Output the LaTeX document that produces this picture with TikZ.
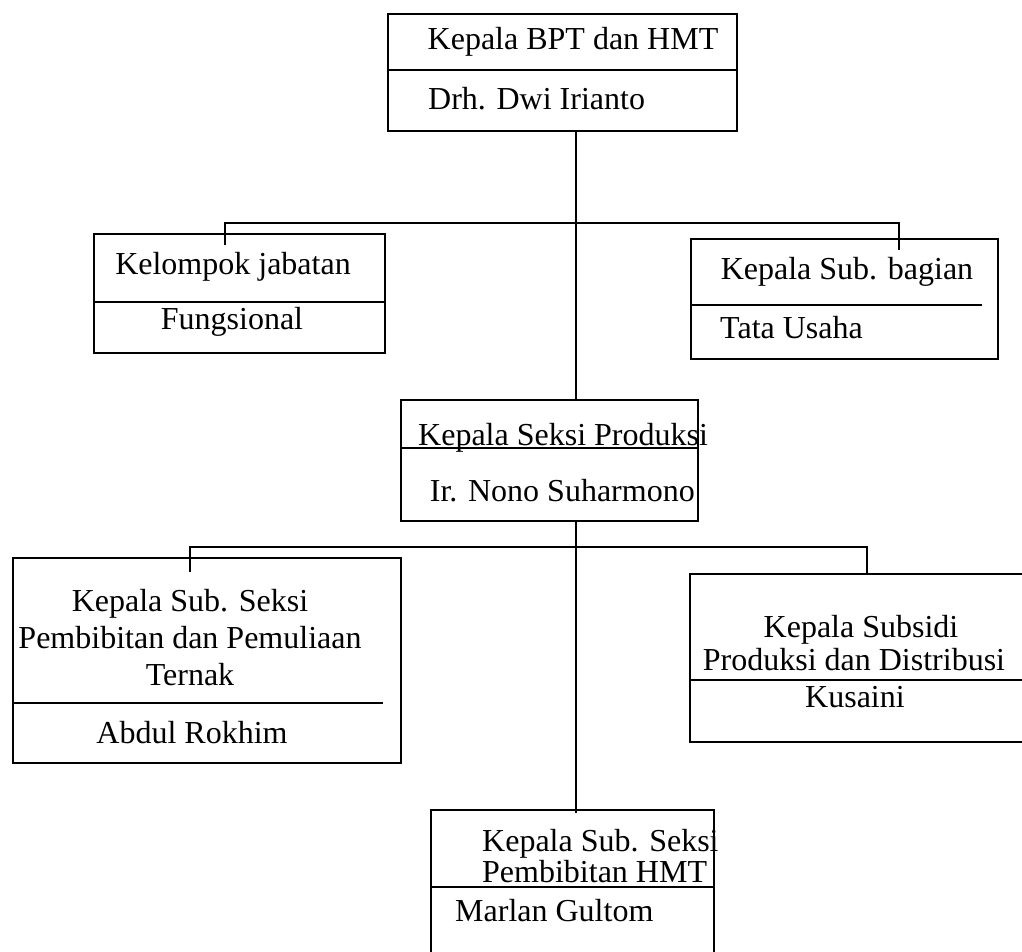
\documentclass[tikz,border=0pt]{standalone}
\usepackage{fontspec}
\setmainfont{Liberation Serif}
\usetikzlibrary{positioning,calc}
\tikzset{
  frame/.style={draw, line width=1.5pt, inner sep=0pt, anchor=north west},
  lbl/.style={inner sep=0pt, font=\fontsize{32}{37}\selectfont},
  wire/.style={line width=1.5pt},
}

\begin{document}
\begin{tikzpicture}[x=1pt,y=-1pt]
    \useasboundingbox (0,0) rectangle (1022,951);

    % draw the boxes
    \node[frame, minimum width=349pt, minimum height=117pt] (bpt) at (387,13) {};
    \node[frame, minimum width=291pt, minimum height=119pt] (kel) at (93,233) {};
    \node[frame, minimum width=307pt, minimum height=120pt] (tu) at (690,238) {};
    \node[frame, minimum width=297pt, minimum height=121pt] (prod) at (400,399) {};
    \node[frame, minimum width=388pt, minimum height=205pt] (pem) at (12,557) {};
    \node[frame, minimum width=345pt, minimum height=168pt] (dis) at (689,573) {};
    \node[frame, minimum width=283pt, minimum height=160pt] (hmt) at (430,809) {};

    % draw the dividers
    \draw[wire] (bpt.west |- 0,70) -- (bpt.east |- 0,70);
    \draw[wire] (kel.west |- 0,302) -- (kel.east |- 0,302);
    \draw[wire] (tu.west |- 0,305) -- (982,305);
    \draw[wire] (prod.west |- 0,448) -- (prod.east |- 0,448);
    \draw[wire] (pem.west |- 0,703) -- (383,703);
    \draw[wire] (dis.west |- 0,680) -- (dis.east |- 0,680);
    \draw[wire] (hmt.west |- 0,887) -- (hmt.east |- 0,887);

    % label the boxes
    \node[lbl] (bpttop) at (573,42) {Kepala BPT dan HMT};
    \node[lbl, anchor=west] (bptname) at (428,99) {Drh. Dwi Irianto};
    \node[lbl] (keltop) at (233,267) {Kelompok jabatan};
    \node[lbl] (kelname) at (232,322) {Fungsional};
    \node[lbl] (tutop) at (847,272) {Kepala Sub. bagian};
    \node[lbl, anchor=west] (tuname) at (720,328) {Tata Usaha};
    \node[lbl, anchor=base west] (prodtop) at (418,445) {Kepala Seksi Produksi};
    \node[lbl, anchor=east] (prodname) at (695,491) {Ir. Nono Suharmono};
    \node[lbl, align=center] (pemtop) at (190,638) {Kepala Sub. Seksi\\Pembibitan dan Pemuliaan\\Ternak};
    \node[lbl] (pemname) at (192,733) {Abdul Rokhim};
    \node[lbl, anchor=base] (distop) at (861,637) {Kepala Subsidi};
    \node[lbl, anchor=base] (disbot) at (854,670) {Produksi dan Distribusi};
    \node[lbl, anchor=base] (disname) at (855,707) {Kusaini};
    \node[lbl, anchor=base west] (hmttop) at (482,851) {Kepala Sub. Seksi};
    \node[lbl, anchor=base west] (hmtmid) at (482,882) {Pembibitan HMT};
    \node[lbl, anchor=base west] (hmtname) at (455,921) {Marlan Gultom};

    % draw the connectors
    \coordinate (trunk) at (576,0);
    \coordinate (ja) at (225,223);
    \coordinate (jb) at (899,223);
    \coordinate (ka) at (225,245);
    \coordinate (kb) at (899,250);
    \coordinate (la) at (190,547);
    \coordinate (lb) at (867,547);
    \coordinate (ma) at (190,572);
    \coordinate (mb) at (867,573);
    \draw[wire] (bpt.south -| trunk) -- (prod.north -| trunk);
    \draw[wire] (ka) -- (ja) -- (jb) -- (kb);
    \draw[wire] (prod.south -| trunk) -- ($(hmt.north -| trunk)+(0,4)$);
    \draw[wire] (ma) -- (la) -- (lb) -- (mb);
\end{tikzpicture}
\end{document}
